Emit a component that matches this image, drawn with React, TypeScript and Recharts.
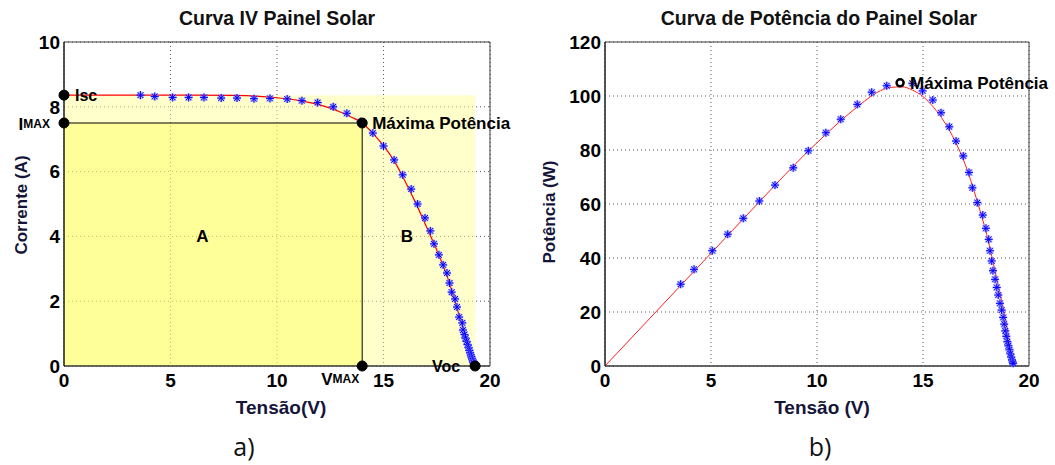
import {
  CartesianGrid,
  ComposedChart,
  Line,
  ReferenceArea,
  ReferenceDot,
  ReferenceLine,
  Scatter,
  XAxis,
  YAxis,
} from "recharts";

// tensão / corrente do modelo (curva vermelha)
const ivModelV = [0, 2, 4, 6, 8, 9, 10, 11, 12, 12.5, 13, 13.5, 14, 14.5, 15, 15.5, 16, 16.5, 17, 17.5, 18, 18.5, 19, 19.3];
const ivModelI = [8.36, 8.36, 8.36, 8.36, 8.35, 8.33, 8.28, 8.2, 8.06, 7.96, 7.83, 7.68, 7.5, 7.18, 6.8, 6.33, 5.72, 5.05, 4.32, 3.58, 2.75, 1.68, 0.62, 0];

// pontos medidos (asteriscos azuis)
const ivMeasV = [3.59, 4.26, 5.1, 5.85, 6.57, 7.38, 8.12, 8.92, 9.67, 10.48, 11.17, 11.91, 12.64, 13.28, 13.92, 14.5, 15.0, 15.5, 15.9, 16.3, 16.6, 16.95, 17.2, 17.37, 17.6, 17.8, 17.98, 18.1, 18.2, 18.36, 18.45, 18.55, 18.7, 18.73, 18.8, 18.85, 18.9, 18.95, 19.0, 19.03, 19.07, 19.1, 19.13, 19.16, 19.19, 19.22, 19.25, 19.28, 19.3];
const ivMeasI = [8.36, 8.32, 8.29, 8.29, 8.29, 8.27, 8.27, 8.25, 8.26, 8.24, 8.19, 8.13, 8.0, 7.8, 7.54, 7.19, 6.79, 6.36, 5.9, 5.46, 5.0, 4.57, 4.17, 3.77, 3.43, 3.12, 2.87, 2.56, 2.28, 2.07, 1.82, 1.51, 1.33, 1.11, 0.97, 0.86, 0.76, 0.66, 0.56, 0.48, 0.41, 0.34, 0.28, 0.22, 0.16, 0.11, 0.07, 0.04, 0.01];

// potência do modelo
const pModelV = [0, 2, 4, 6, 8, 9, 10, 11, 12, 12.5, 13, 13.5, 14, 14.5, 15, 15.5, 16, 16.5, 17, 17.5, 18, 18.5, 19, 19.25];
const pModelP = [0, 16.7, 33.4, 50.1, 66.8, 75.0, 82.7, 90.0, 96.6, 99.6, 102.0, 103.2, 103.4, 102.2, 99.8, 95.8, 90.5, 83.5, 74.5, 62.5, 48.8, 31.5, 12.5, 0];

// potência medida
const pMeasV = [3.57, 4.2, 5.06, 5.79, 6.52, 7.28, 8.02, 8.88, 9.59, 10.42, 11.12, 11.9, 12.58, 13.29, 14.5, 14.98, 15.46, 15.85, 16.24, 16.56, 16.9, 17.17, 17.33, 17.56, 17.82, 17.97, 18.1, 18.16, 18.24, 18.3, 18.4, 18.48, 18.55, 18.63, 18.71, 18.78, 18.83, 18.88, 18.93, 18.98, 19.03, 19.08, 19.12, 19.16, 19.2, 19.23, 19.25];
const pMeasP = [30.3, 35.8, 42.7, 48.8, 54.7, 61.1, 67.0, 73.4, 79.7, 86.4, 91.4, 96.9, 101.4, 103.8, 104.7, 101.9, 98.5, 93.8, 88.6, 83.3, 77.8, 71.7, 66.0, 60.5, 55.9, 51.0, 46.9, 42.7, 38.9, 35.3, 32.1, 29.1, 26.3, 23.2, 20.7, 18.0, 15.5, 13.0, 11.0, 9.0, 7.5, 6.0, 4.5, 3.3, 2.2, 1.5, 1.0];

// pontos notáveis
const ISC = 8.36;
const VOC = 19.3;
const VMAX = 14;
const IMAX = 7.5;
const PMAX_V = 13.92;
const PMAX = 104.9;

const vTicks = [0, 5, 10, 15, 20];
const iTicks = [0, 2, 4, 6, 8, 10];
const pTicks = [0, 20, 40, 60, 80, 100, 120];

const ivModel = ivModelV.map((v, k) => ({ v, i: ivModelI[k] }));
const ivMeas = ivMeasV.map((v, k) => ({ v, i: ivMeasI[k] }));
const pModel = pModelV.map((v, k) => ({ v, p: pModelP[k] }));
const pMeas = pMeasV.map((v, k) => ({ v, p: pMeasP[k] }));

const FONT = "'Liberation Sans', Arial, sans-serif";
const NAVY = "#15153a";
const tickStyle = { fontSize: 19, fontWeight: 700, fill: "#000", fontFamily: FONT };

function Asterisk(props: any) {
  const { cx, cy } = props;
  if (cx == null || cy == null) return null;
  const r = 4;
  const d = 2.9;
  const path = `M${cx - r},${cy}H${cx + r}M${cx},${cy - r}V${cy + r}M${cx - d},${cy - d}L${cx + d},${cy + d}M${cx - d},${cy + d}L${cx + d},${cy - d}`;
  return (
    <g>
      <path d={path} stroke="#8080ff" strokeWidth={2.4} strokeOpacity={0.55} fill="none" />
      <path d={path} stroke="#0000ff" strokeWidth={1} fill="none" />
    </g>
  );
}

// rótulo de texto posicionado em relação ao centro do ponto
function tag(parts: { t: string; size: number }[], dx: number, dy: number, anchor: "start" | "middle" | "end") {
  return (props: any) => {
    const vb = props.viewBox || {};
    const cx = (vb.x ?? 0) + (vb.width ?? 0) / 2;
    const cy = (vb.y ?? 0) + (vb.height ?? 0) / 2;
    return (
      <text
        x={cx + dx}
        y={cy + dy}
        textAnchor={anchor}
        dominantBaseline="central"
        fontFamily={FONT}
        fontWeight={700}
        fill="#000"
      >
        {parts.map((p, k) => (
          <tspan key={k} fontSize={p.size}>
            {p.t}
          </tspan>
        ))}
      </text>
    );
  };
}

function IVChart() {
  return (
    <ComposedChart width={530} height={420} margin={{ top: 42, right: 40, bottom: 0, left: 0 }}>
      <CartesianGrid stroke="#555" strokeDasharray="1 3" />
      <XAxis
        dataKey="v"
        type="number"
        domain={[0, 20]}
        ticks={vTicks}
        height={54}
        tickLine={false}
        tickSize={6}
        tickMargin={2}
        axisLine={{ stroke: "#333" }}
        tick={tickStyle}
      />
      <YAxis
        dataKey="i"
        type="number"
        domain={[0, 10]}
        ticks={iTicks}
        width={64}
        tickLine={false}
        tickSize={2}
        tickMargin={2}
        axisLine={{ stroke: "#111" }}
        tick={tickStyle}
      />
      <ReferenceArea x1={0} x2={VOC} y1={0} y2={ISC} fill="#ffff99" fillOpacity={0.5} stroke="none" />
      <ReferenceArea x1={0} x2={VMAX} y1={0} y2={IMAX} fill="#ffff00" fillOpacity={0.25} stroke="none" />
      <ReferenceArea x1={0} x2={20} y1={0} y2={10} fill="none" stroke="#404040" />
      <ReferenceLine segment={[{ x: 0, y: IMAX }, { x: VMAX, y: IMAX }]} stroke="#000" strokeWidth={1} />
      <ReferenceLine segment={[{ x: VMAX, y: 0 }, { x: VMAX, y: IMAX }]} stroke="#000" strokeWidth={1} />
      <Line data={ivModel} dataKey="i" type="monotone" stroke="#ff0000" strokeWidth={1.2} dot={false} isAnimationActive={false} />
      <Scatter data={ivMeas} shape={<Asterisk />} isAnimationActive={false} />
      <ReferenceDot x={6.5} y={4} r={1} fill="none" stroke="none" label={{ content: tag([{ t: "A", size: 17 }], 0, 0, "middle") }} />
      <ReferenceDot x={16.1} y={4} r={1} fill="none" stroke="none" label={{ content: tag([{ t: "B", size: 17 }], 0, 0, "middle") }} />
      <ReferenceDot x={0} y={ISC} r={5} fill="#000" stroke="#000" ifOverflow="visible" label={{ content: tag([{ t: "Isc", size: 16 }], 11, 0, "start") }} />
      <ReferenceDot
        x={0}
        y={IMAX}
        r={5}
        fill="#000"
        stroke="#000"
        ifOverflow="visible"
        label={{ content: tag([{ t: "I", size: 17 }, { t: "MAX", size: 12 }], -14, 1, "end") }}
      />
      <ReferenceDot x={VMAX} y={IMAX} r={5} fill="#000" stroke="#000" label={{ content: tag([{ t: "Máxima Potência", size: 17 }], 10, 0, "start") }} />
      <ReferenceDot
        x={VMAX}
        y={0}
        r={5}
        fill="#000"
        stroke="#000"
        ifOverflow="visible"
        label={{ content: tag([{ t: "V", size: 17 }, { t: "MAX", size: 12 }], -3, 13, "end") }}
      />
      <ReferenceDot x={VOC} y={0} r={5} fill="#000" stroke="#000" ifOverflow="visible" label={{ content: tag([{ t: "Voc", size: 16 }], -15, 0, "end") }} />
    </ComposedChart>
  );
}

function PowerChart() {
  return (
    <ComposedChart width={515} height={420} margin={{ top: 42, right: 26, bottom: 0, left: 0 }}>
      <CartesianGrid stroke="#555" strokeDasharray="1 3" />
      <XAxis
        dataKey="v"
        type="number"
        domain={[0, 20]}
        ticks={vTicks}
        height={54}
        tickLine={false}
        tickSize={6}
        tickMargin={2}
        axisLine={{ stroke: "#333" }}
        tick={tickStyle}
      />
      <YAxis
        dataKey="p"
        type="number"
        domain={[0, 120]}
        ticks={pTicks}
        width={65}
        tickLine={false}
        tickSize={2}
        tickMargin={2}
        axisLine={{ stroke: "#111" }}
        tick={tickStyle}
      />
      <ReferenceArea x1={0} x2={20} y1={0} y2={120} fill="none" stroke="#404040" />
      <Line data={pModel} dataKey="p" type="monotone" stroke="#ff2020" strokeWidth={1} dot={false} isAnimationActive={false} />
      <Scatter data={pMeas} shape={<Asterisk />} isAnimationActive={false} />
      <ReferenceDot
        x={PMAX_V}
        y={PMAX}
        r={3.5}
        fill="#fff"
        stroke="#000"
        strokeWidth={2.5}
        label={{ content: tag([{ t: "Máxima Potência", size: 17 }], 10, 0, "start") }}
      />
    </ComposedChart>
  );
}

const abs = (left: number, top: number): React.CSSProperties => ({
  position: "absolute",
  left,
  top,
  transform: "translate(-50%, -50%)",
  whiteSpace: "nowrap",
  fontFamily: FONT,
  fontWeight: 700,
});

export default function App() {
  return (
    <div style={{ position: "absolute", left: 0, top: 0, width: 1055, height: 465, background: "#fff", overflow: "hidden" }}>
      <div style={{ position: "absolute", left: 0, top: 0 }}>
        <IVChart />
      </div>
      <div style={{ position: "absolute", left: 540, top: 0 }}>
        <PowerChart />
      </div>

      <div style={{ ...abs(277, 18), fontSize: 19.5, color: "#111" }}>Curva IV Painel Solar</div>
      <div style={{ ...abs(819, 18), fontSize: 19.5, color: "#111" }}>Curva de Potência do Painel Solar</div>

      <div style={{ ...abs(22, 205), fontSize: 17, color: NAVY, transform: "translate(-50%, -50%) rotate(-90deg)" }}>
        Corrente (A)
      </div>
      <div style={{ ...abs(550, 212), fontSize: 17, color: NAVY, transform: "translate(-50%, -50%) rotate(-90deg)" }}>
        Potência (W)
      </div>
      <div style={{ ...abs(281, 408), fontSize: 19, color: NAVY }}>Tensão(V)</div>
      <div style={{ ...abs(822, 408), fontSize: 19, color: NAVY }}>Tensão (V)</div>

      <div style={{ ...abs(244, 446), fontSize: 25, fontWeight: 400, fontFamily: "'Open Sans', sans-serif", color: "#111" }}>a)</div>
      <div style={{ ...abs(820, 446), fontSize: 25, fontWeight: 400, fontFamily: "'Open Sans', sans-serif", color: "#111" }}>b)</div>
    </div>
  );
}
